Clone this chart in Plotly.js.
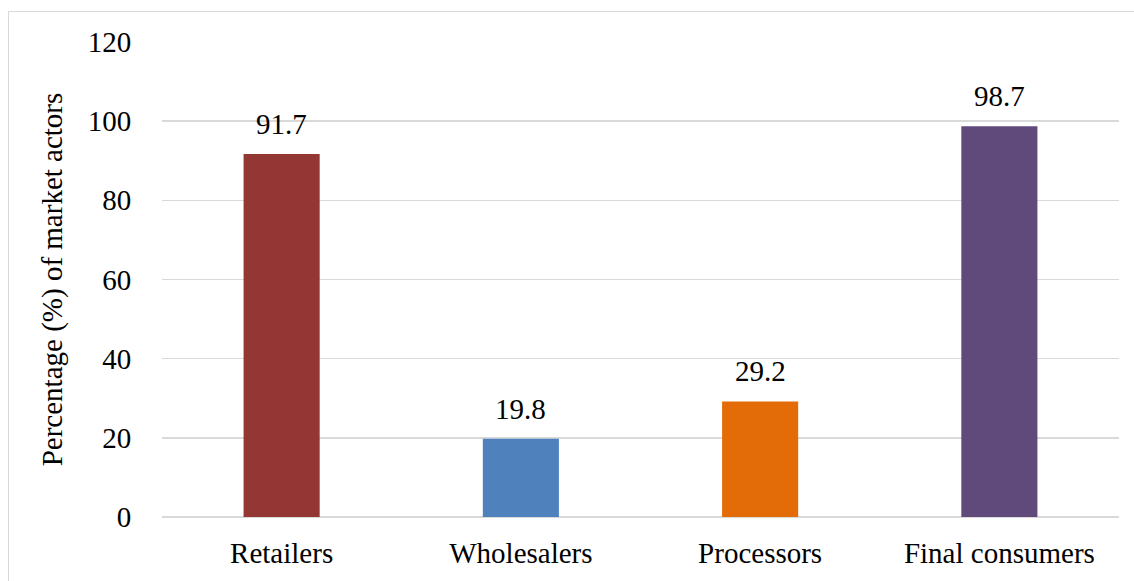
<!DOCTYPE html>
<html>
<head>
<meta charset="utf-8">
<script src="https://cdn.plot.ly/plotly-3.0.1.min.js"></script>
<style>
html,body{margin:0;padding:0;background:#fff;}
#frame{position:absolute;left:8px;top:11px;width:1140px;height:590px;border:1.5px solid #d9d9d9;box-sizing:border-box;pointer-events:none;z-index:5;}
#chart{position:absolute;left:0;top:0;width:1134px;height:581px;}
</style>
</head>
<body>
<div id="chart"></div>
<div id="frame"></div>
<script>
const categories = ["Retailers", "Wholesalers", "Processors", "Final consumers"];
const values = [91.7, 19.8, 29.2, 98.7];
const barColors = ["#943634", "#4f81bd", "#e36c09", "#604a7b"];
const yTicks = [0, 20, 40, 60, 80, 100, 120];

const font = "Liberation Serif, DejaVu Serif, serif";

Plotly.newPlot("chart", [{
  type: "bar",
  x: categories,
  y: values,
  marker: {color: barColors},
  hoverinfo: "none"
}], {
  width: 1134, height: 581,
  margin: {l: 162, r: 15, t: 42, b: 64, pad: 0},
  paper_bgcolor: "#fff", plot_bgcolor: "#fff",
  showlegend: false,
  bargap: 0.682,
  font: {family: font, size: 29, color: "#000"},
  annotations: categories.map((c, i) => ({
    x: c, y: values[i], xref: "x", yref: "y",
    text: values[i].toFixed(1), showarrow: false,
    yanchor: "bottom", yshift: 12,
    font: {family: font, size: 29, color: "#000"}
  })),
  xaxis: {
    showgrid: false, zeroline: false, showline: false,
    ticks: "outside", ticklen: 10, tickcolor: "rgba(0,0,0,0)",
    tickfont: {family: font, size: 29, color: "#000"}
  },
  yaxis: {
    range: [0, 120], tickvals: yTicks, ticktext: yTicks.map(String),
    showgrid: true, gridcolor: "#d9d9d9", gridwidth: 1.5,
    zeroline: true, zerolinecolor: "#d9d9d9", zerolinewidth: 1.5,
    showline: false,
    ticks: "outside", ticklen: 24, tickcolor: "rgba(0,0,0,0)",
    tickfont: {family: font, size: 29, color: "#000"},
    title: {text: "Percentage (%) of market actors", font: {family: font, size: 29, color: "#000"}, standoff: 16}
  }
}, {displayModeBar: false, staticPlot: true});
</script>
</body>
</html>
